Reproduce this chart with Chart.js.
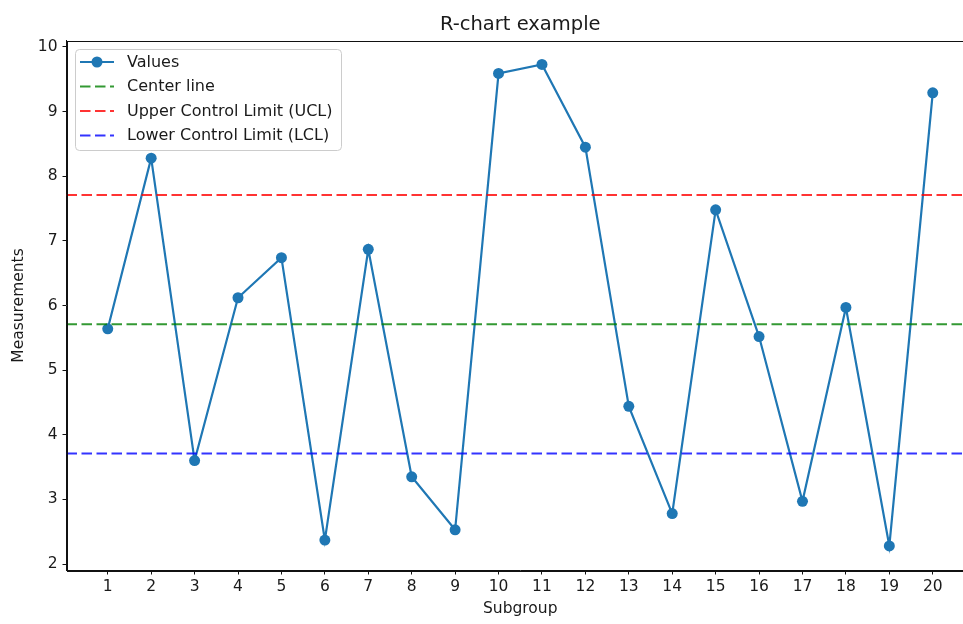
<!DOCTYPE html>
<html>
<head>
<meta charset="utf-8">
<script src="https://cdn.jsdelivr.net/npm/chart.js@4/dist/chart.umd.min.js"></script>
<style>
  html, body { margin: 0; padding: 0; background: #fff; overflow: hidden; width: 963px; height: 624px; }
  canvas { display: block; }
</style>
</head>
<body>
<canvas id="rchart" width="990" height="624"></canvas>
<script>
// Subgroup numbers and measured values
const subgroups = [1, 2, 3, 4, 5, 6, 7, 8, 9, 10, 11, 12, 13, 14, 15, 16, 17, 18, 19, 20];
const measurements = [5.64, 8.28, 3.60, 6.12, 6.74, 2.37, 6.87, 3.35, 2.53, 9.59,
                      9.73, 8.45, 4.44, 2.78, 7.48, 5.52, 2.97, 5.97, 2.28, 9.29];

// Control limits
const centerLine = 5.71;
const upperLimit = 7.71;
const lowerLimit = 3.71;

// Axis ticks and ranges
const yTicks = [2, 3, 4, 5, 6, 7, 8, 9, 10];
const xRange = [0.05, 20.95];
const yRange = [1.9, 10.1];

const chartTitle = 'R-chart example';
const xTitle = 'Subgroup';
const yTitle = 'Measurements';

const FONT = '"DejaVu Sans", sans-serif';
const TEXT = '#1a1a1a';
const baseFont = { family: FONT, size: 15.5 };

const hline = (v) => [{ x: xRange[0], y: v }, { x: xRange[1], y: v }];
const dash = [10.5, 4.5];

// Axes frame, title and an in-plot legend box
const decorations = {
  id: 'decorations',
  afterDatasetsDraw(chart) {
    const { ctx, chartArea: a } = chart;
    ctx.save();

    // frame around the plotting area
    ctx.strokeStyle = '#111';
    ctx.lineWidth = 1;
    ctx.strokeRect(Math.round(a.left) + 0.5, Math.round(a.top) + 0.5,
                   Math.round(a.right - a.left), Math.round(a.bottom - a.top));

    // title
    ctx.fillStyle = TEXT;
    ctx.font = '19.5px ' + FONT;
    ctx.textAlign = 'center';
    ctx.textBaseline = 'alphabetic';
    ctx.fillText(chartTitle, (a.left + a.right) / 2, a.top - 11);

    // legend
    const lx = a.left + 9, ly = a.top + 9, lw = 266, lh = 101, r = 4;
    ctx.beginPath();
    ctx.moveTo(lx + r, ly);
    ctx.arcTo(lx + lw, ly, lx + lw, ly + lh, r);
    ctx.arcTo(lx + lw, ly + lh, lx, ly + lh, r);
    ctx.arcTo(lx, ly + lh, lx, ly, r);
    ctx.arcTo(lx, ly, lx + lw, ly, r);
    ctx.closePath();
    ctx.fillStyle = 'rgba(255,255,255,0.8)';
    ctx.fill();
    ctx.strokeStyle = '#cccccc';
    ctx.lineWidth = 1;
    ctx.stroke();

    ctx.font = '16px ' + FONT;
    ctx.textAlign = 'left';
    ctx.textBaseline = 'middle';
    chart.data.datasets.forEach((ds, i) => {
      const y = ly + 12.5 + i * 24.5;
      const x0 = lx + 4.5, x1 = lx + 38.5;
      ctx.save();
      ctx.strokeStyle = ds.borderColor;
      ctx.lineWidth = ds.borderWidth;
      ctx.setLineDash(ds.borderDash || []);
      ctx.beginPath();
      ctx.moveTo(x0, y);
      ctx.lineTo(x1, y);
      ctx.stroke();
      ctx.restore();
      if (ds.pointRadius > 0) {
        ctx.fillStyle = ds.backgroundColor;
        ctx.beginPath();
        ctx.arc((x0 + x1) / 2, y, ds.pointRadius, 0, Math.PI * 2);
        ctx.fill();
      }
      ctx.fillStyle = TEXT;
      ctx.fillText(ds.label, lx + 51.5, y + 0.5);
    });

    ctx.restore();
  }
};

new Chart(document.getElementById('rchart'), {
  type: 'line',
  data: {
    datasets: [
      {
        label: 'Values',
        data: subgroups.map((s, i) => ({ x: s, y: measurements[i] })),
        borderColor: '#1f77b4',
        backgroundColor: '#1f77b4',
        borderWidth: 2.2,
        pointRadius: 5.5,
        pointHoverRadius: 5.5,
        pointBorderWidth: 0,
        tension: 0,
        order: 1
      },
      {
        label: 'Center line',
        data: hline(centerLine),
        borderColor: 'rgba(0,128,0,0.8)',
        borderWidth: 2.2,
        borderDash: dash,
        pointRadius: 0,
        order: 0
      },
      {
        label: 'Upper Control Limit (UCL)',
        data: hline(upperLimit),
        borderColor: 'rgba(255,0,0,0.8)',
        borderWidth: 2.2,
        borderDash: dash,
        pointRadius: 0,
        order: 0
      },
      {
        label: 'Lower Control Limit (LCL)',
        data: hline(lowerLimit),
        borderColor: 'rgba(0,0,255,0.8)',
        borderWidth: 2.2,
        borderDash: dash,
        pointRadius: 0,
        order: 0
      }
    ]
  },
  options: {
    responsive: false,
    animation: false,
    events: [],
    layout: { padding: { top: 40.5, right: 16, bottom: 0, left: 0 } },
    plugins: {
      legend: { display: false },
      title: { display: false },
      tooltip: { enabled: false }
    },
    scales: {
      x: {
        type: 'linear',
        min: xRange[0],
        max: xRange[1],
        afterBuildTicks: (axis) => { axis.ticks = subgroups.map(v => ({ value: v })); },
        afterFit: (axis) => { axis.height = 53.5; },
        grid: { drawOnChartArea: false, drawTicks: true, tickLength: 4, color: '#111' },
        border: { display: true, color: '#111' },
        ticks: { color: TEXT, font: baseFont, padding: 3, autoSkip: false, maxRotation: 0 },
        title: { display: true, text: xTitle, color: TEXT, font: baseFont, padding: { top: 0, bottom: 6 } }
      },
      y: {
        type: 'linear',
        min: yRange[0],
        max: yRange[1],
        afterBuildTicks: (axis) => { axis.ticks = yTicks.map(v => ({ value: v })); },
        afterFit: (axis) => { axis.width = 66.5; },
        grid: { drawOnChartArea: false, drawTicks: true, tickLength: 4, color: '#111' },
        border: { display: true, color: '#111' },
        ticks: { color: TEXT, font: baseFont, padding: 5 },
        title: { display: true, text: yTitle, color: TEXT, font: baseFont, padding: { top: 9.5, bottom: 0 } }
      }
    }
  },
  plugins: [decorations]
});
</script>
</body>
</html>
